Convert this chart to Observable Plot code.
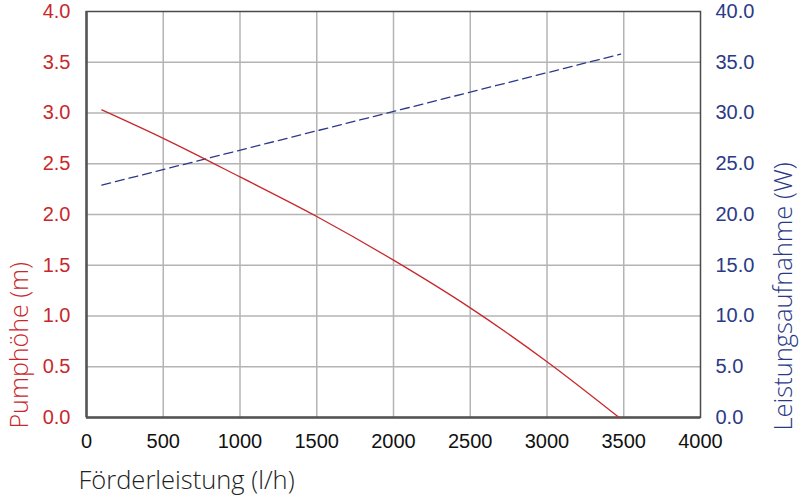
<!DOCTYPE html>
<html>
<head>
<meta charset="utf-8">
<script src="https://cdn.jsdelivr.net/npm/d3@7"></script>
<script src="https://cdn.jsdelivr.net/npm/@observablehq/plot@0.6"></script>
<style>
  html, body { margin: 0; padding: 0; background: #fff; }
</style>
</head>
<body>
<div id="chart"></div>
<script>
// Flow rate (l/h) for head curve
const headFlow = [100, 500, 1000, 1500, 2000, 2500, 3000, 3470];
// Pump head (m)
const headValues = [3.03, 2.75, 2.37, 1.98, 1.55, 1.08, 0.55, 0.0];
// Flow rate (l/h) for power curve
const powerFlow = [100, 3480];
// Power consumption (W)
const powerValues = [22.9, 35.8];

const xTicks = [0, 500, 1000, 1500, 2000, 2500, 3000, 3500, 4000];
const leftTicks = [0, 0.5, 1.0, 1.5, 2.0, 2.5, 3.0, 3.5, 4.0];
const rightTicks = [0, 5, 10, 15, 20, 25, 30, 35, 40];

const xTitle = "Förderleistung (l/h)";
const leftTitle = "Pumphöhe (m)";
const rightTitle = "Leistungsaufnahme (W)";

const red = "#c8282c";
const navy = "#2b3a86";

const headData = headFlow.map((q, i) => ({q, h: headValues[i]}));
const powerData = powerFlow.map((q, i) => ({q, w: powerValues[i]}));
const ratio = 10; // right axis = left axis * 10

const titleFont = "'Open Sans', 'Noto Sans', sans-serif";

const chart = Plot.plot({
  width: 800,
  height: 498,
  marginLeft: 86,
  marginRight: 100,
  marginTop: 11,
  marginBottom: 81,
  style: {fontFamily: "'Liberation Sans', Arial, sans-serif", background: "#fff"},
  x: {domain: [0, 4000]},
  y: {domain: [0, 4]},
  marks: [
    Plot.gridX(xTicks.slice(1, -1), {stroke: "#b4b4b4", strokeOpacity: 1, strokeWidth: 1.5}),
    Plot.gridY(leftTicks.slice(1, -1), {stroke: "#b4b4b4", strokeOpacity: 1, strokeWidth: 1.5}),
    Plot.frame({stroke: "#4a4a4a", strokeWidth: 1.5}),
    Plot.ruleX([0], {stroke: "#555", strokeWidth: 2.5}),
    Plot.ruleY([0], {stroke: "#555", strokeWidth: 2.5}),
    Plot.axisX(xTicks, {tickSize: 0, tickPadding: 16, fontSize: 20, fill: "#111", label: null, tickFormat: d => String(d)}),
    Plot.axisY(leftTicks, {anchor: "left", tickSize: 0, tickPadding: 16, fontSize: 20, fill: red, label: null, tickFormat: d => d.toFixed(1)}),
    Plot.axisY(rightTicks.map(t => t / ratio), {anchor: "right", tickSize: 0, tickPadding: 15, fontSize: 20, fill: navy, label: null, tickFormat: d => (d * ratio).toFixed(1)}),
    Plot.line(powerData, {x: "q", y: d => d.w / ratio, stroke: navy, strokeWidth: 1.3, strokeDasharray: "9,5"}),
    Plot.line(headData, {x: "q", y: "h", stroke: red, strokeWidth: 1.3, curve: "monotone-x"}),
    Plot.text([xTitle], {frameAnchor: "bottom-left", text: d => d, textAnchor: "start", lineAnchor: "middle", dx: -8, dy: 63, fontSize: 25.5, fill: "#222", fontFamily: titleFont, fontWeight: 300}),
    Plot.text([leftTitle], {frameAnchor: "bottom-left", text: d => d, rotate: -90, textAnchor: "start", lineAnchor: "middle", dx: -67, dy: 11, fontSize: 25, fill: red, fontFamily: titleFont, fontWeight: 300}),
    Plot.text([rightTitle], {frameAnchor: "bottom-right", text: d => d, rotate: -90, textAnchor: "start", lineAnchor: "middle", dx: 83, dy: 13, fontSize: 25.5, fill: navy, fontFamily: titleFont, fontWeight: 300})
  ]
});
document.getElementById("chart").append(chart);
</script>
</body>
</html>
